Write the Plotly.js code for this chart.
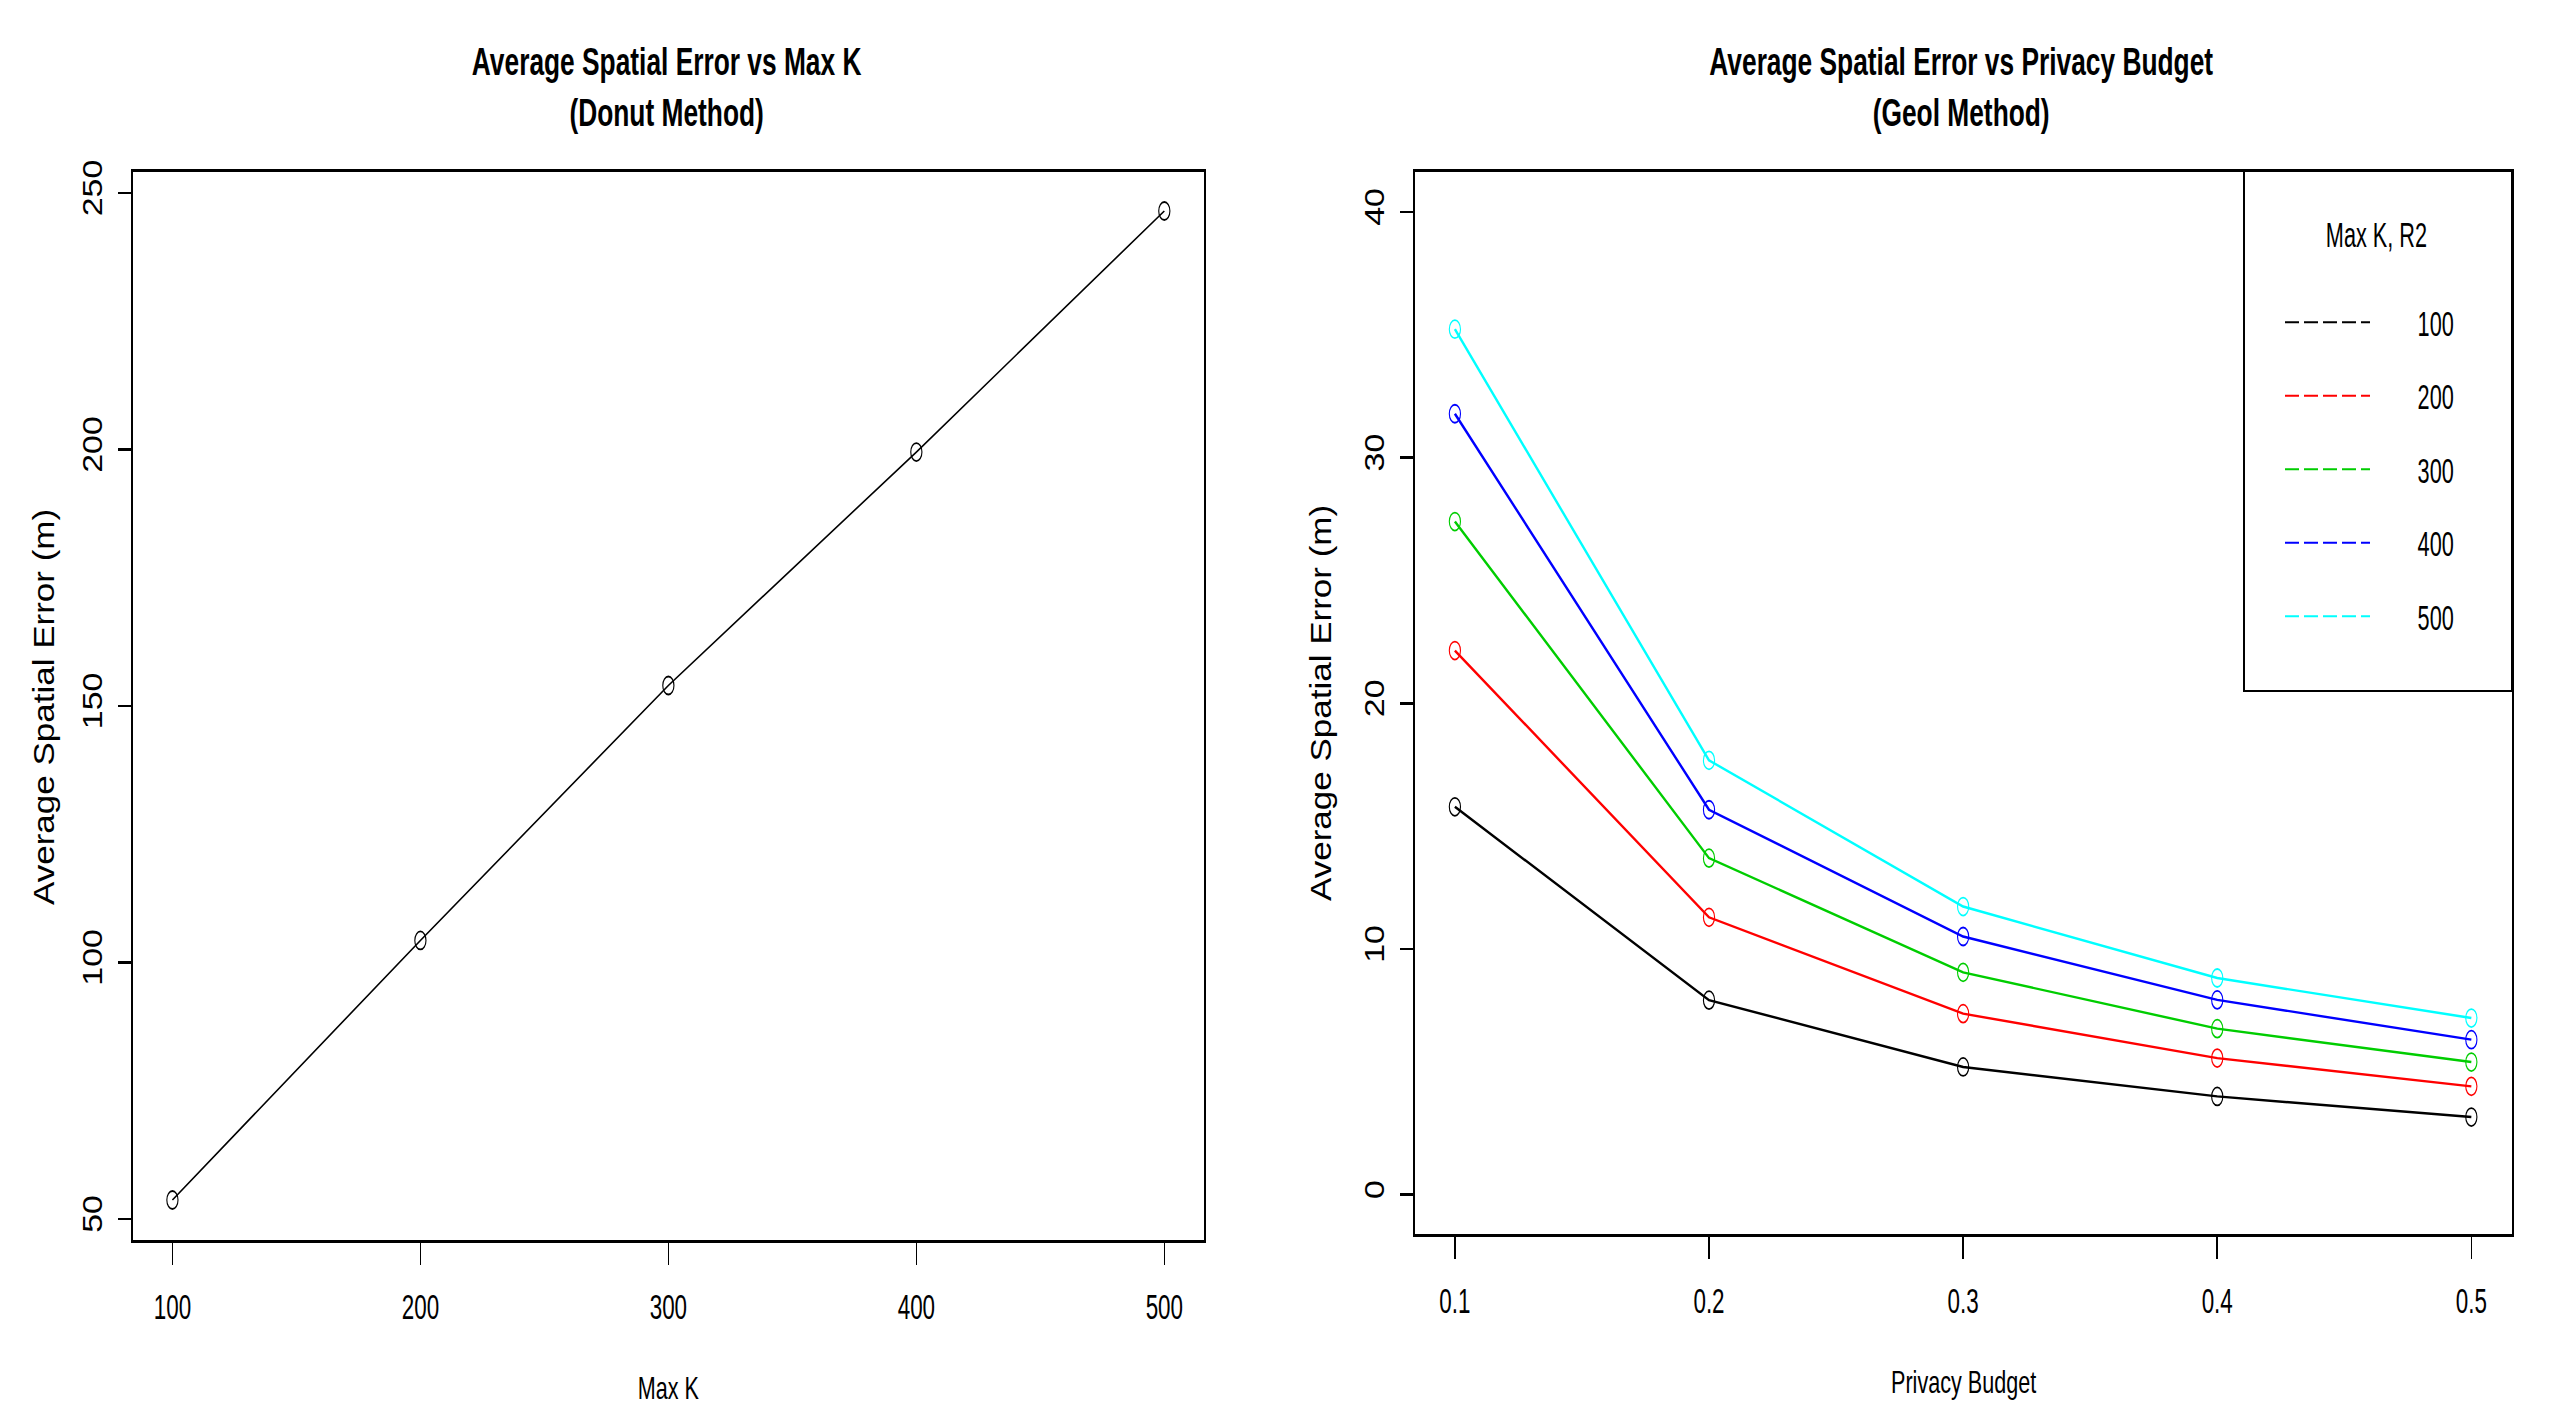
<!DOCTYPE html>
<html>
<head>
<meta charset="utf-8">
<script src="https://cdn.plot.ly/plotly-3.0.1.min.js"></script>
<style>
  html, body { margin: 0; padding: 0; background: #ffffff; }
  #chart { width: 2550px; height: 1416px; }
</style>
</head>
<body>
<div id="chart"></div>
<script>
// Donut method: average spatial error for each max K
const maxK = [100, 200, 300, 400, 500];
const donutError = [53.7, 104.3, 154.0, 199.5, 246.5];

// Geol method: average spatial error for each privacy budget, one series per max K
const privacyBudget = [0.1, 0.2, 0.3, 0.4, 0.5];
const seriesLabels = ['100', '200', '300', '400', '500'];
const geolError100 = [15.79, 7.92, 5.20, 4.00, 3.16];
const geolError200 = [22.15, 11.29, 7.37, 5.56, 4.41];
const geolError300 = [27.40, 13.70, 9.05, 6.76, 5.40];
const geolError400 = [31.79, 15.67, 10.51, 7.93, 6.31];
const geolError500 = [35.23, 17.68, 11.73, 8.82, 7.19];
const seriesColors = ['#000000', '#FF0000', '#00CD00', '#0000FF', '#00FFFF'];

// Tick labels
const leftXTicks = [100, 200, 300, 400, 500];
const leftYTicks = [50, 100, 150, 200, 250];
const rightXTicks = [0.1, 0.2, 0.3, 0.4, 0.5];
const rightXTickText = ['0.1', '0.2', '0.3', '0.4', '0.5'];
const rightYTicks = [0, 10, 20, 30, 40];

const FONT = 'Liberation Sans, Arial, Helvetica, sans-serif';
const NB = '\u00a0';
const geolSeries = [geolError100, geolError200, geolError300, geolError400, geolError500];

const traces = [];

traces.push({
  x: maxK, y: donutError, xaxis: 'x', yaxis: 'y',
  type: 'scatter', mode: 'lines+markers',
  line: { color: '#000000', width: 1.6 },
  marker: { symbol: 'circle-open', size: 18, color: '#000000', line: { width: 1.8 } },
  showlegend: false, hoverinfo: 'x+y'
});

geolSeries.forEach((vals, i) => {
  traces.push({
    x: privacyBudget, y: vals, xaxis: 'x2', yaxis: 'y2',
    type: 'scatter', mode: 'lines+markers', name: seriesLabels[i],
    line: { color: seriesColors[i], width: 2.4 },
    marker: { symbol: 'circle-open', size: 18, color: seriesColors[i], line: { width: 1.8 } },
    showlegend: false, hoverinfo: 'x+y+name'
  });
});

// Legend keys: dashed line per max K
seriesLabels.forEach((lab, i) => {
  traces.push({
    x: [null], y: [null], xaxis: 'x2', yaxis: 'y2',
    type: 'scatter', mode: 'lines', name: NB.repeat(4) + lab, legendgroup: 'k' + lab,
    line: { color: seriesColors[i], width: 2, dash: '14px,5px' },
    showlegend: true, hoverinfo: 'skip'
  });
});

const axisCommon = {
  showgrid: false, zeroline: false, showline: true, mirror: true,
  linecolor: '#000000', ticks: 'outside', tickcolor: '#000000',
  color: '#000000'
};

const W = 2550, H = 1416;
const px = v => v / W;
const py = v => 1 - v / H;

const layout = {
  width: W, height: H,
  margin: { l: 0, r: 0, t: 0, b: 0 },
  paper_bgcolor: '#ffffff', plot_bgcolor: '#ffffff',
  font: { family: FONT, color: '#000000' },
  xaxis: Object.assign({}, axisCommon, {
    domain: [px(132.5), px(1203.5)], range: [83.9, 515.8], anchor: 'y',
    tickvals: leftXTicks, ticktext: leftXTicks.map(String),
    ticklen: 22, tickwidth: 1.5, linewidth: 3,
    tickfont: { size: 35 }, ticklabelstandoff: 12
  }),
  yaxis: Object.assign({}, axisCommon, {
    domain: [1 - 1240 / H, 1 - 172 / H], range: [45.9, 254.1], anchor: 'x',
    tickvals: leftYTicks, ticktext: leftYTicks.map(String), tickangle: -90,
    ticklen: 13, tickwidth: 2.5, linewidth: 2,
    tickfont: { size: 34 }, ticklabelstandoff: 0
  }),
  xaxis2: Object.assign({}, axisCommon, {
    domain: [px(1415), px(2512)], range: [0.0843, 0.516], anchor: 'y2',
    tickvals: rightXTicks, ticktext: rightXTickText,
    ticklen: 22, tickwidth: 1.5, linewidth: 3,
    tickfont: { size: 35 }, ticklabelstandoff: 12
  }),
  yaxis2: Object.assign({}, axisCommon, {
    domain: [1 - 1234 / H, 1 - 172 / H], range: [-1.6, 41.63], anchor: 'x2',
    tickvals: rightYTicks, ticktext: rightYTicks.map(String), tickangle: -90,
    ticklen: 13, tickwidth: 2.5, linewidth: 2,
    tickfont: { size: 34 }, ticklabelstandoff: 0
  }),
  legend: {
    x: px(2244), xanchor: 'left', y: py(202), yanchor: 'top',
    bgcolor: 'rgba(0,0,0,0)', borderwidth: 0,
    font: { size: 35, color: '#000000' },
    title: { text: NB.repeat(5) + 'Max K, R2' + NB.repeat(5) + '<br>' + NB, side: 'top center', font: { size: 35 } },
    tracegroupgap: 25, indentation: 36, itemwidth: 85
  },
  // legend frame
  shapes: [
    { type: 'rect', xref: 'paper', yref: 'paper', x0: px(2244), x1: px(2512), y0: py(691), y1: py(171),
      line: { color: '#000000', width: 2 }, fillcolor: 'rgba(0,0,0,0)', layer: 'above' }
  ],
  annotations: [
    { text: 'Average Spatial Error vs Max K<br>(Donut Method)', x: px(666), y: py(87),
      font: { size: 39, weight: 700 } },
    { text: 'Average Spatial Error vs Privacy Budget<br>(Geol Method)', x: px(1961), y: py(87),
      font: { size: 39, weight: 700 } },
    { text: 'Max K', x: px(668), y: py(1388), font: { size: 32 } },
    { text: 'Privacy Budget', x: px(1964), y: py(1382), font: { size: 32 } },
    { text: 'Average Spatial Error (m)', x: px(43), y: py(707), textangle: -90, font: { size: 35 } },
    { text: 'Average Spatial Error (m)', x: px(1320), y: py(703), textangle: -90, font: { size: 35 } }
  ].map(a => Object.assign({ xref: 'paper', yref: 'paper', showarrow: false,
                             xanchor: 'center', yanchor: 'middle' }, a))
};

// Narrow the glyphs around their own centre, along the element's local x or y
function squeeze(node, s, alongY) {
  const g = document.createElementNS('http://www.w3.org/2000/svg', 'g');
  node.parentNode.insertBefore(g, node);
  g.appendChild(node);
  const b = g.getBBox();
  if (alongY) {
    const cy = b.y + b.height / 2;
    g.setAttribute('transform', 'translate(0 ' + cy + ') scale(1 ' + s + ') translate(0 ' + (-cy) + ')');
  } else {
    const cx = b.x + b.width / 2;
    g.setAttribute('transform', 'translate(' + cx + ' 0) scale(' + s + ' 1) translate(' + (-cx) + ' 0)');
  }
}

Plotly.newPlot('chart', traces, layout, { displayModeBar: false, staticPlot: true }).then(gd => {
  gd.querySelectorAll('g.annotation').forEach(a => {
    const idx = +a.getAttribute('data-index');
    const t = a.querySelector('text');
    if (!t) return;
    // rotated titles are turned by their parent group, so narrow their local y
    if (layout.annotations[idx].textangle === -90) squeeze(t, 0.82, true);
    else squeeze(t, 0.675, false);
  });
  gd.querySelectorAll('g.xtick text, g.x2tick text').forEach(t => squeeze(t, 0.64));
  gd.querySelectorAll('g.ytick text, g.y2tick text').forEach(t => squeeze(t, 0.8));
  gd.querySelectorAll('g.legend text').forEach(t => squeeze(t, 0.62));
  gd.querySelectorAll('g.points path.point').forEach(p => squeeze(p, 0.62));
});
</script>
</body>
</html>
